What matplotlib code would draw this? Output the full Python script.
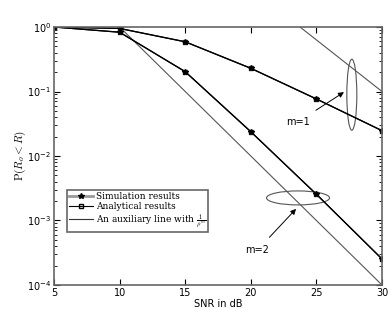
from matplotlib import pyplot as plt
from matplotlib.patches import Ellipse
from matplotlib.lines import Line2D
from matplotlib.transforms import IdentityTransform

plt.rcParams['mathtext.fontset'] = 'cm'

snr = [5, 10, 15, 20, 25, 30]
sim_m1 = [1.0, 0.95, 0.59, 0.229, 0.0766, 0.0247]
ana_m1 = [1.0, 0.95, 0.59, 0.229, 0.0766, 0.0247]
sim_m2 = [1.0, 0.83, 0.203, 0.0238, 0.00255, 0.000253]
ana_m2 = [1.0, 0.83, 0.203, 0.0238, 0.00255, 0.000253]
aux_x = [5, 30]
aux_m1 = [1000.0, 0.1]
aux_m2 = [10.0, 0.0001]

fig = plt.figure(figsize=(3.9, 3.09), dpi=100)
ax = fig.add_axes([0.1385, 0.0777, 0.8410, 0.8349])

ax.plot(aux_x, aux_m1, color='#555555', lw=0.8)
ax.plot(aux_x, aux_m2, color='#555555', lw=0.8)
ax.plot(snr, ana_m1, color='black', lw=0.9, marker='s', ms=3.5, mfc='#444444', mec='#333333')
ax.plot(snr, sim_m1, color='black', lw=0.9, marker='*', ms=4)
ax.plot(snr, ana_m2, color='black', lw=0.9, marker='s', ms=3.5, mfc='#444444', mec='#333333')
ax.plot(snr, sim_m2, color='black', lw=0.9, marker='*', ms=4)

ax.set_yscale('log')
ax.set_xlim(5, 30)
ax.set_ylim(1e-4, 1)
ax.set_xticks([5, 10, 15, 20, 25, 30])
ax.tick_params(which='both', direction='in', top=True, right=True, labelsize=7, pad=2)
ax.tick_params(which='major', length=4)
ax.tick_params(which='minor', length=2)
for s in ax.spines.values():
    s.set_color('#666666')
    s.set_linewidth(1.2)

ax.set_xlabel('SNR in dB', fontsize=7, labelpad=1)
ax.set_ylabel(r'$\mathrm{P}(R_o < R)$', fontsize=8, labelpad=-1)

handles = [
    Line2D([], [], color='#999999', lw=2, marker='*', ms=4, mfc='black', mec='black'),
    Line2D([], [], color='black', lw=0.8, marker='s', ms=3.5, mfc='none', mec='black'),
    Line2D([], [], color='#333333', lw=0.8),
]
labels = ['Simulation results', 'Analytical results', r'An auxiliary line with $\frac{1}{\rho^m}$']
leg = ax.legend(handles, labels, loc='lower left', bbox_to_anchor=(0.04, 0.205),
                prop={'family': 'serif', 'size': 6.5}, fancybox=False, framealpha=1,
                handlelength=2.6, handletextpad=0.3, borderpad=0.25, labelspacing=0.1,
                borderaxespad=0)
leg.get_frame().set_edgecolor('#666666')
leg.get_frame().set_linewidth(1.2)

arrow = dict(arrowstyle='-|>', color='black', lw=0.7, mutation_scale=8, shrinkA=5, shrinkB=0)
ax.annotate('m=1', xy=(27.1, 10 ** -1.01), xytext=(23.6, 10 ** -1.47), fontsize=7,
            ha='center', va='center', arrowprops=arrow)
ax.annotate('m=2', xy=(23.45, 10 ** -2.82), xytext=(20.5, 10 ** -3.46), fontsize=7,
            ha='center', va='center', arrowprops=arrow)

# ellipses sized in pixels, centred on data points
for cx, cy, w, h in [(27.7, 10 ** -1.05, 10, 71), (23.6, 10 ** -2.65, 63, 14)]:
    px, py = ax.transData.transform((cx, cy))
    ax.add_patch(Ellipse((px, py), w, h, transform=IdentityTransform(),
                         fill=False, ec='#555555', lw=0.8))

fig.savefig('out.png', dpi=100)
